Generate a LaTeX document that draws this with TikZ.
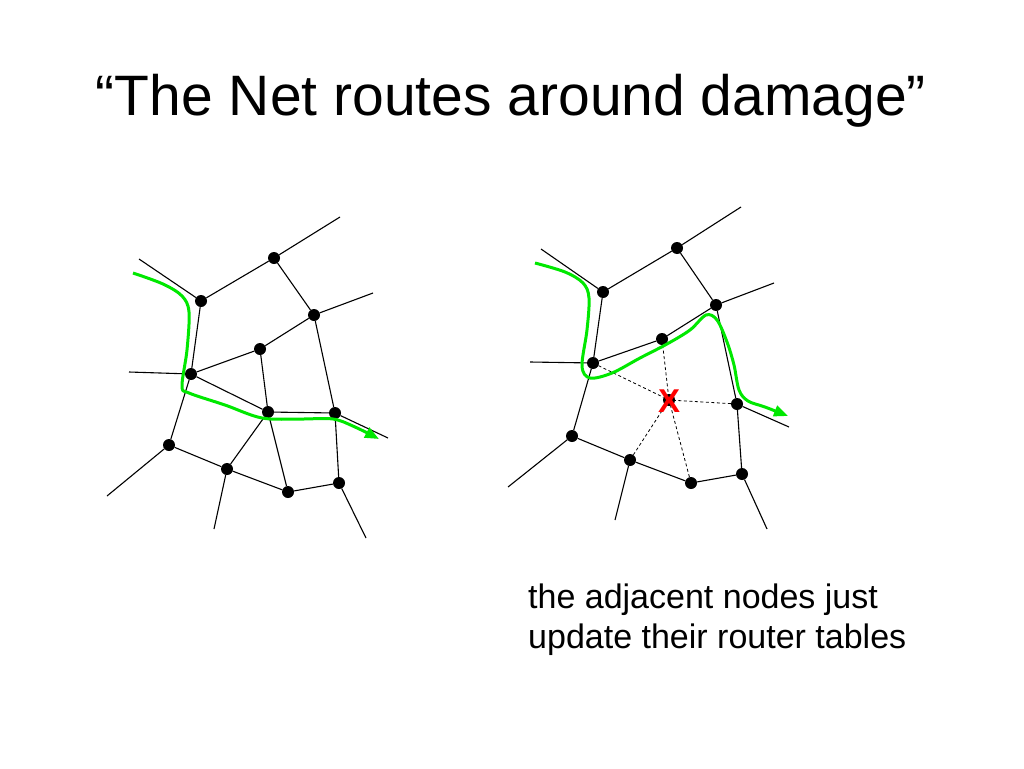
\documentclass[tikz,border=0pt]{standalone}
\usepackage{fontspec}
\setmainfont{Liberation Sans}
\usetikzlibrary{arrows.meta}
\definecolor{netgreen}{RGB}{0,232,0}
\begin{document}
\begin{tikzpicture}[x=1pt,y=-1pt,
  dot/.style={circle,fill=black,inner sep=0pt,minimum size=12pt},
  edge/.style={draw=black,line width=1.1pt},
  dashedge/.style={draw=black,line width=0.8pt,dash pattern=on 3pt off 2.5pt},
  route/.style={draw=netgreen,line width=3pt,line join=round,-{Triangle[length=14pt,width=11pt]}}
]
\useasboundingbox[fill=white] (0,0) rectangle (1024,768);

% Title
\node[anchor=base,inner sep=0pt,font=\fontsize{57}{60}\selectfont] (title) at (511,115) {“The Net routes around damage”};

% ---------- Left network ----------
\node[dot] (lA) at (274,258) {};
\node[dot] (lB) at (201,301) {};
\node[dot] (lC) at (314,315) {};
\node[dot] (lD) at (260,349) {};
\node[dot] (lE) at (191,374) {};
\node[dot] (lF) at (268,412) {};
\node[dot] (lG) at (335,413) {};
\node[dot] (lH) at (169,445) {};
\node[dot] (lI) at (227,469) {};
\node[dot] (lJ) at (288,492) {};
\node[dot] (lK) at (339,483) {};
\coordinate (la) at (340,217);
\coordinate (lb) at (139,259);
\coordinate (lc) at (373,293);
\coordinate (le) at (129,372);
\coordinate (lg) at (388,438);
\coordinate (lh) at (107,496);
\coordinate (li) at (214,529);
\coordinate (lk) at (366,538);

\draw[edge] (lA) -- (lB);
\draw[edge] (lA) -- (lC);
\draw[edge] (lC) -- (lD);
\draw[edge] (lD) -- (lE);
\draw[edge] (lB) -- (lE);
\draw[edge] (lE) -- (lF);
\draw[edge] (lD) -- (lF);
\draw[edge] (lF) -- (lG);
\draw[edge] (lC) -- (lG);
\draw[edge] (lE) -- (lH);
\draw[edge] (lH) -- (lI);
\draw[edge] (lI) -- (lF);
\draw[edge] (lF) -- (lJ);
\draw[edge] (lI) -- (lJ);
\draw[edge] (lJ) -- (lK);
\draw[edge] (lG) -- (lK);
\draw[edge] (lA) -- (la);
\draw[edge] (lB) -- (lb);
\draw[edge] (lC) -- (lc);
\draw[edge] (lE) -- (le);
\draw[edge] (lG) -- (lg);
\draw[edge] (lH) -- (lh);
\draw[edge] (lI) -- (li);
\draw[edge] (lK) -- (lk);

\draw[route] plot[smooth,tension=0.55] coordinates {
  (133,273) (163,284) (182,296) (189,312) (187,350) (182,386) (189,393)
  (225,405) (262,418) (300,419) (333,419) (355,427) (379,439)};

% ---------- Right network ----------
\node[dot] (rA) at (677,248) {};
\node[dot] (rB) at (603,292) {};
\node[dot] (rC) at (716,305) {};
\node[dot] (rD) at (662,339) {};
\node[dot] (rE) at (593,363) {};
\node[dot] (rX) at (669,400) {};
\node[dot] (rG) at (737,404) {};
\node[dot] (rH) at (572,436) {};
\node[dot] (rI) at (630,460) {};
\node[dot] (rJ) at (691,483) {};
\node[dot] (rK) at (742,474) {};
\coordinate (ra) at (741,207);
\coordinate (rb) at (541,249);
\coordinate (rc) at (774,283);
\coordinate (re) at (530,362);
\coordinate (rg) at (789,427);
\coordinate (rh) at (508,487);
\coordinate (ri) at (615,520);
\coordinate (rk) at (767,529);

\draw[edge] (rA) -- (rB);
\draw[edge] (rA) -- (rC);
\draw[edge] (rC) -- (rD);
\draw[edge] (rD) -- (rE);
\draw[edge] (rB) -- (rE);
\draw[edge] (rC) -- (rG);
\draw[edge] (rE) -- (rH);
\draw[edge] (rH) -- (rI);
\draw[edge] (rI) -- (rJ);
\draw[edge] (rJ) -- (rK);
\draw[edge] (rG) -- (rK);
\draw[edge] (rA) -- (ra);
\draw[edge] (rB) -- (rb);
\draw[edge] (rC) -- (rc);
\draw[edge] (rE) -- (re);
\draw[edge] (rG) -- (rg);
\draw[edge] (rH) -- (rh);
\draw[edge] (rI) -- (ri);
\draw[edge] (rK) -- (rk);
\draw[dashedge] (rE) -- (rX);
\draw[dashedge] (rD) -- (rX);
\draw[dashedge] (rG) -- (rX);
\draw[dashedge] (rI) -- (rX);
\draw[dashedge] (rJ) -- (rX);

\node[text=red,inner sep=0pt,font=\bfseries\fontsize{33}{33}\selectfont] (cross) at (669,401) {X};

\draw[route] plot[smooth,tension=0.55] coordinates {
  (535,263) (565,272) (583,283) (589,298) (587,330) (582,366) (590,378)
  (612,373) (640,358) (667,344) (690,330) (706,315) (717,320) (727,342)
  (734,365) (739,390) (748,401) (765,407) (788,416)};

% Caption
\node[anchor=base west,align=left,inner sep=0pt,font=\fontsize{34}{40}\selectfont] (caption) at (528,648) {the adjacent nodes just\\update their router tables};
\end{tikzpicture}
\end{document}
